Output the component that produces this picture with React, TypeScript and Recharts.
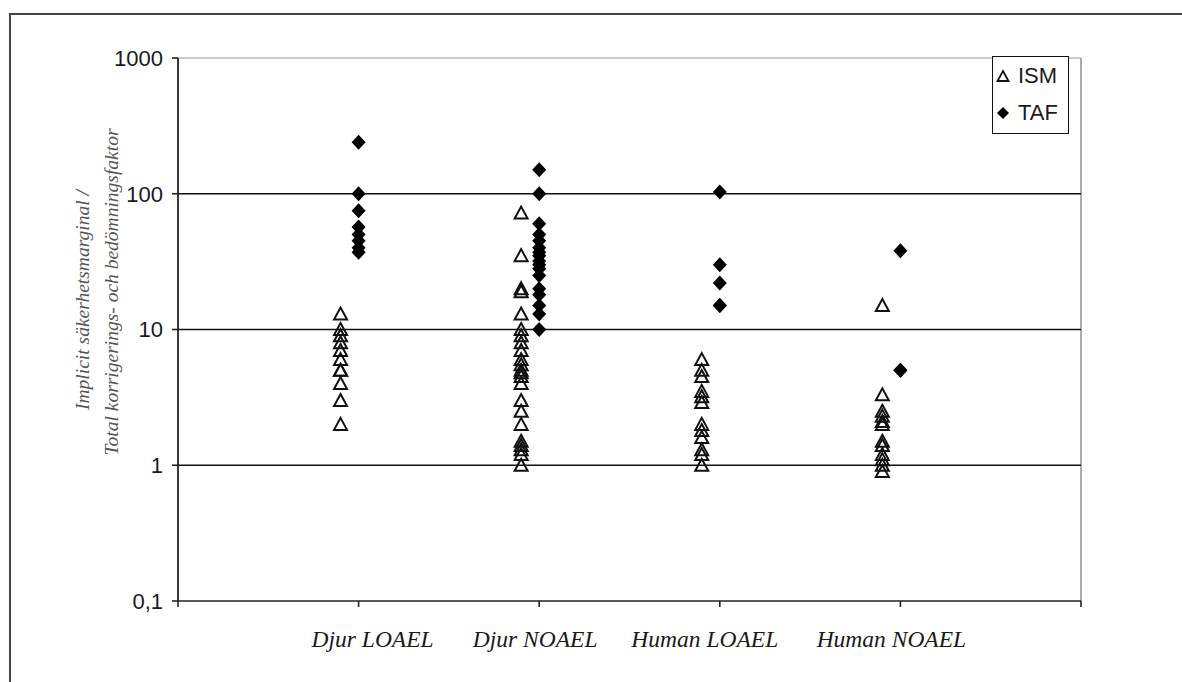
import React from 'react';
import { ScatterChart, Scatter, XAxis, YAxis, ReferenceLine } from 'recharts';

// categories along the x axis (placed at x = 1..4)
const categories = ['Djur LOAEL', 'Djur NOAEL', 'Human LOAEL', 'Human NOAEL'];
const xTicks = [0, 1, 2, 3, 4, 5];
const yTicks = [0.1, 1, 10, 100, 1000];
const gridValues = [1, 10, 100];

// ISM (implicit safety margin) values per category
const ismDjurLoael = [13, 10, 9, 8, 7, 6, 5, 5, 4, 3, 2];
const ismDjurNoael = [72, 35, 20, 19, 13, 10, 9, 8, 7, 6, 5.5, 5, 4.8, 4.5, 4, 3, 2.5, 2, 1.5, 1.4, 1.3, 1.2, 1];
const ismHumanLoael = [6, 5, 4.5, 3.5, 3.2, 2.9, 2, 1.8, 1.6, 1.3, 1.2, 1];
const ismHumanNoael = [15, 3.3, 2.5, 2.3, 2.1, 2, 1.5, 1.4, 1.2, 1.1, 1, 0.9];

// TAF (total adjustment factor) values per category
const tafDjurLoael = [240, 100, 75, 57, 50, 45, 40, 37];
const tafDjurNoael = [150, 100, 60, 50, 45, 40, 37, 35, 32, 30, 28, 25, 20, 18, 15, 13, 10];
const tafHumanLoael = [103, 30, 22, 15, 15];
const tafHumanNoael = [38, 5, 5];

const ismShift = -0.1;

const toPoints = (values: number[], x: number) => values.map((y) => ({ x, y }));

const ismData = [
  ...toPoints(ismDjurLoael, 1 + ismShift),
  ...toPoints(ismDjurNoael, 2 + ismShift),
  ...toPoints(ismHumanLoael, 3 + ismShift),
  ...toPoints(ismHumanNoael, 4 + ismShift),
];

const tafData = [
  ...toPoints(tafDjurLoael, 1),
  ...toPoints(tafDjurNoael, 2),
  ...toPoints(tafHumanLoael, 3),
  ...toPoints(tafHumanNoael, 4),
];

const sansFont = '"Liberation Sans", Arial, sans-serif';
const serifFont = '"Liberation Serif", "Times New Roman", serif';

// the labels in the original sit a little off their tick marks
const labelShift = [0, 14, -4, -15, -9, 0];

const Triangle = (props: any) => {
  const { cx, cy } = props;
  return (
    <path
      d={`M${cx},${cy - 6.5} L${cx + 6.5},${cy + 5.5} L${cx - 6.5},${cy + 5.5} Z`}
      fill="none"
      stroke="#111"
      strokeWidth={2}
    />
  );
};

const Diamond = (props: any) => {
  const { cx, cy } = props;
  return (
    <path
      d={`M${cx},${cy - 7.5} L${cx + 7},${cy} L${cx},${cy + 7.5} L${cx - 7},${cy} Z`}
      fill="#000"
    />
  );
};

const CategoryTick = (props: any) => {
  const { x, y, payload } = props;
  const i = payload.value as number;
  const name = categories[i - 1];
  if (!name) return null;
  return (
    <text
      x={x + labelShift[i]}
      y={y + 38}
      textAnchor="middle"
      fontFamily={serifFont}
      fontStyle="italic"
      fontSize={23.5}
      fill="#1a1a1a"
    >
      {name}
    </text>
  );
};

export default function App() {
  return (
    <div
      style={{
        position: 'fixed',
        left: 0,
        top: 0,
        width: 1182,
        height: 682,
        overflow: 'hidden',
        background: '#fff',
      }}
    >
      <ScatterChart
        width={1182}
        height={682}
        margin={{ top: 58, right: 101, bottom: 21, left: 0 }}
        style={{ position: 'absolute', left: 0, top: 0 }}
      >
        <XAxis
          dataKey="x"
          type="number"
          domain={[0, 5]}
          ticks={xTicks}
          interval={0}
          height={60}
          tick={<CategoryTick />}
          tickSize={6}
          axisLine={{ stroke: '#222', strokeWidth: 1.6 }}
          tickLine={{ stroke: '#222', strokeWidth: 1.6 }}
        />
        <YAxis
          dataKey="y"
          type="number"
          scale="log"
          domain={[0.1, 1000]}
          ticks={yTicks}
          allowDataOverflow
          width={178}
          tickFormatter={(v: number) => (v === 0.1 ? '0,1' : String(v))}
          tick={{ fontFamily: sansFont, fontSize: 22, fill: '#1a1a1a' }}
          tickSize={6}
          tickMargin={9}
          axisLine={{ stroke: '#222', strokeWidth: 1.8 }}
          tickLine={{ stroke: '#222', strokeWidth: 1.6 }}
        />
        <ReferenceLine y={1000} stroke="#999" strokeWidth={1.2} />
        <ReferenceLine x={5} stroke="#999" strokeWidth={1.6} />
        {gridValues.map((g) => (
          <ReferenceLine key={g} y={g} stroke="#111" strokeWidth={1.5} />
        ))}
        <Scatter name="ISM" data={ismData} shape={Triangle} isAnimationActive={false} />
        <Scatter name="TAF" data={tafData} shape={Diamond} isAnimationActive={false} />
      </ScatterChart>

      <svg
        width={1182}
        height={682}
        style={{ position: 'absolute', left: 0, top: 0, pointerEvents: 'none' }}
      >
        {/* outer frame: only top and left edges fall inside the picture */}
        <path d="M10,682 L10,14 L1182,14" fill="none" stroke="#444" strokeWidth={2} />
        <g fontFamily={serifFont} fontStyle="italic" fontSize={19.5} fill="#555" textAnchor="middle">
          <text transform="translate(89,300) rotate(-90)">Implicit säkerhetsmarginal /</text>
          <text transform="translate(118,292) rotate(-90)">Total korrigerings- och bedömningsfaktor</text>
        </g>
      </svg>

      <div
        style={{
          position: 'absolute',
          left: 992,
          top: 56,
          width: 75,
          height: 76,
          border: '1.5px solid #111',
          background: '#fff',
          fontFamily: sansFont,
          fontSize: 22,
          color: '#1a1a1a',
        }}
      >
        <div style={{ position: 'absolute', left: 2, top: 6, display: 'flex', alignItems: 'center' }}>
          <svg width={16} height={16}>
            <path d="M8,3 L13.5,13 L2.5,13 Z" fill="none" stroke="#111" strokeWidth={1.8} />
          </svg>
          <span style={{ marginLeft: 7 }}>ISM</span>
        </div>
        <div style={{ position: 'absolute', left: 2, top: 43, display: 'flex', alignItems: 'center' }}>
          <svg width={16} height={16}>
            <path d="M8,2 L14,8 L8,14 L2,8 Z" fill="#000" />
          </svg>
          <span style={{ marginLeft: 7 }}>TAF</span>
        </div>
      </div>
    </div>
  );
}
